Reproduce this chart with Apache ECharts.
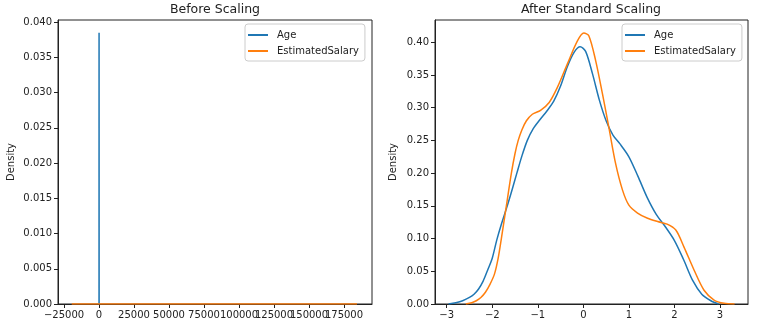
<!DOCTYPE html>
<html>
<head>
<meta charset="utf-8">
<script src="https://cdn.jsdelivr.net/npm/echarts@6/dist/echarts.min.js"></script>
<style>html,body{margin:0;padding:0;background:#fff}#c{width:760px;height:328px}</style>
</head>
<body>
<div id="c"></div>
<script>
// ---- Data ----
const seriesNames = ['Age', 'EstimatedSalary'];
// Before scaling (raw values)
const ageRawX = [8, 18, 26, 32, 37, 42, 48, 55, 62, 72];
const ageRawY = [0, 0.004, 0.018, 0.032, 0.0385, 0.034, 0.024, 0.014, 0.006, 0];
const salRawX = [-19500, 0, 30000, 70000, 100000, 140000, 184300];
const salRawY = [0.0000002, 0.000004, 0.000009, 0.000012, 0.000008, 0.000004, 0.0000002];
const leftXTicks = [-25000, 0, 25000, 50000, 75000, 100000, 125000, 150000, 175000];
const leftYTicks = [0, 0.005, 0.010, 0.015, 0.020, 0.025, 0.030, 0.035, 0.040];
// After standard scaling
const ageX = [-2.96,-2.8,-2.65,-2.5,-2.4,-2.3,-2.2,-2.1,-2.0,-1.9,-1.8,-1.67,-1.55,-1.46,-1.35,-1.23,-1.1,-0.95,-0.8,-0.65,-0.5,-0.35,-0.2,-0.07,0.05,0.2,0.35,0.5,0.65,0.8,1.0,1.2,1.4,1.6,1.8,2.0,2.2,2.4,2.6,2.8,2.97];
const ageY = [0,0.002,0.005,0.01,0.015,0.023,0.035,0.052,0.07,0.098,0.122,0.15,0.178,0.20,0.226,0.25,0.268,0.282,0.295,0.31,0.333,0.363,0.385,0.393,0.386,0.352,0.312,0.28,0.258,0.245,0.225,0.195,0.163,0.137,0.118,0.097,0.068,0.036,0.015,0.005,0];
const salX = [-2.58,-2.45,-2.35,-2.25,-2.15,-2.05,-1.95,-1.87,-1.8,-1.69,-1.58,-1.5,-1.43,-1.35,-1.25,-1.12,-0.94,-0.75,-0.57,-0.35,-0.13,0.01,0.12,0.27,0.42,0.56,0.71,0.86,1.0,1.19,1.41,1.63,1.84,2.03,2.21,2.43,2.65,2.87,3.09,3.32];
const salY = [0,0.002,0.005,0.01,0.018,0.03,0.046,0.07,0.10,0.15,0.20,0.23,0.25,0.266,0.28,0.29,0.296,0.308,0.331,0.367,0.402,0.414,0.41,0.372,0.321,0.27,0.214,0.174,0.151,0.139,0.131,0.126,0.122,0.113,0.087,0.052,0.021,0.006,0.001,0];
const rightXTicks = [-3, -2, -1, 0, 1, 2, 3];
const rightYTicks = [0, 0.05, 0.10, 0.15, 0.20, 0.25, 0.30, 0.35, 0.40];

const colors = ['#1f77b4', '#ff7f0e'];
const FONT = 'DejaVu Sans';
const minus = v => String(v).replace('-', '\u2212');

function pairs(xs, ys) { return xs.map((x, i) => [x, ys[i]]); }

function xAxis(gi, min, max, ticks, labels, fmt) {
  return {
    type: 'value', gridIndex: gi, min, max,
    axisLine: { show: true, onZero: false, lineStyle: { color: '#222', width: 1 } },
    axisTick: { show: true, length: 4, customValues: ticks, lineStyle: { color: '#222' } },
    axisLabel: { customValues: labels, formatter: fmt, color: '#222', fontFamily: FONT, fontSize: 10, margin: 6, showMinLabel: true, showMaxLabel: true, hideOverlap: false },
    splitLine: { show: false }
  };
}
function yAxis(gi, max, ticks, fmt, gap) {
  return {
    type: 'value', gridIndex: gi, min: 0, max,
    name: 'Density', nameLocation: 'middle', nameGap: gap,
    nameTextStyle: { fontFamily: FONT, fontSize: 10, color: '#222' },
    axisLine: { show: true, onZero: false, lineStyle: { color: '#222', width: 1 } },
    axisTick: { show: true, length: 4, customValues: ticks, lineStyle: { color: '#222' } },
    axisLabel: { customValues: ticks, formatter: fmt, color: '#222', fontFamily: FONT, fontSize: 10, margin: 6, showMinLabel: true, showMaxLabel: true },
    splitLine: { show: false }
  };
}
function line(name, gi, data, color) {
  return {
    type: 'line', name, xAxisIndex: gi, yAxisIndex: gi, data,
    smooth: 0.3, symbol: 'none', showSymbol: false,
    lineStyle: { color, width: 1.5 }, itemStyle: { color }, z: 3
  };
}
function legend(left) {
  return {
    data: seriesNames.map(n => ({ name: n, icon: 'rect' })),
    orient: 'vertical', left, top: 24,
    itemWidth: 20, itemHeight: 2, itemGap: 4,
    padding: [5, 6, 4, 3],
    borderColor: '#cccccc', borderWidth: 1, borderRadius: 3,
    backgroundColor: 'rgba(255,255,255,0.8)',
    textStyle: { fontFamily: FONT, fontSize: 10, color: '#222', padding: [0, 0, 0, 4], lineHeight: 12 }
  };
}

// left x-axis labels split over two axes so overlapping neighbours are all drawn
const leftLabelsA = leftXTicks.filter((v, i) => i !== leftXTicks.length - 2);
const leftLabelsB = [leftXTicks[leftXTicks.length - 2]];
const extraAxis = xAxis(0, -29300, 195000, [], leftLabelsB, v => minus(v));
extraAxis.axisLine.show = false;
extraAxis.axisTick.show = false;

const chart = echarts.init(document.getElementById('c'), null, { renderer: 'canvas' });
chart.setOption({
  animation: false,
  backgroundColor: '#fff',
  title: [
    { text: 'Before Scaling', left: 215, top: 3, padding: 0, textAlign: 'center', textStyle: { fontFamily: FONT, fontSize: 12.5, fontWeight: 'normal', color: '#222' } },
    { text: 'After Standard Scaling', left: 591, top: 3, padding: 0, textAlign: 'center', textStyle: { fontFamily: FONT, fontSize: 12.5, fontWeight: 'normal', color: '#222' } }
  ],
  legend: [legend(245), legend(622)],
  grid: [
    { left: 58, right: 388, top: 20, bottom: 24, show: true, borderColor: '#222', borderWidth: 1, containLabel: false },
    { left: 435, right: 12, top: 20, bottom: 24, show: true, borderColor: '#222', borderWidth: 1, containLabel: false }
  ],
  xAxis: [
    xAxis(0, -29300, 195000, leftXTicks, leftLabelsA, v => minus(v)),
    xAxis(1, -3.257, 3.615, rightXTicks, rightXTicks, v => minus(v)),
    Object.assign(extraAxis, { position: 'bottom', offset: 0 })
  ],
  yAxis: [
    yAxis(0, 0.0403, leftYTicks, v => v.toFixed(3), 42),
    yAxis(1, 0.434, rightYTicks, v => v.toFixed(2), 37)
  ],
  series: [
    line('Age', 0, pairs(ageRawX, ageRawY), colors[0]),
    line('EstimatedSalary', 0, pairs(salRawX, salRawY), colors[1]),
    line('Age', 1, pairs(ageX, ageY), colors[0]),
    line('EstimatedSalary', 1, pairs(salX, salY), colors[1])
  ]
});
</script>
</body>
</html>
